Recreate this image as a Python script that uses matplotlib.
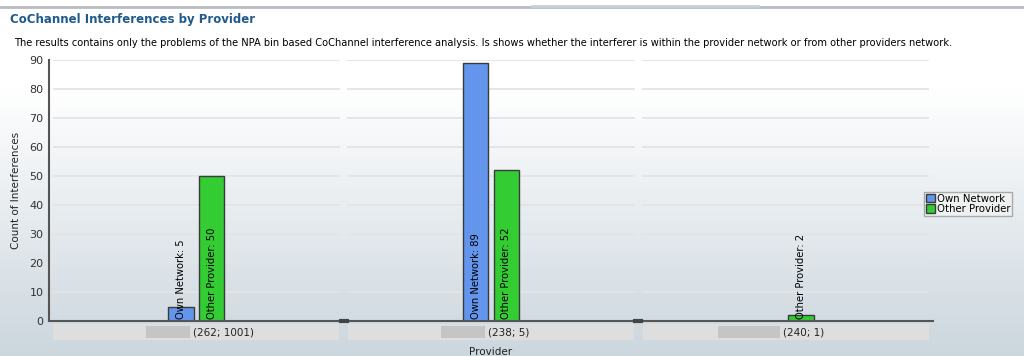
import numpy as np
import matplotlib.pyplot as plt
from matplotlib.patches import Rectangle, Patch

# dados
categorias = ['(262; 1001)', '(238; 5)', '(240; 1)']
own_network = [5, 89, 0]
other_provider = [50, 52, 2]
yticks = [0, 10, 20, 30, 40, 50, 60, 70, 80, 90]

plt.rcParams['font.family'] = ['DejaVu Sans']

fig = plt.figure(figsize=(10.24, 3.56), dpi=100)

# fundo com gradiente (branco em cima -> cinza azulado embaixo)
bg = fig.add_axes([0, 0, 1, 1], zorder=-10)
grad = np.linspace(0, 1, 256).reshape(-1, 1)
grad = np.clip((grad - 0.25) / 0.75, 0, 1)
top = np.array([1.0, 1.0, 1.0])
bot = np.array([0.80, 0.84, 0.87])
img = top + (bot - top) * grad[:, :, None]
bg.imshow(img, aspect='auto', extent=[0, 1, 0, 1], origin='upper')
bg.axis('off')

# barra do topo
fig.add_artist(plt.Line2D([0, 1], [1 - 7/356, 1 - 7/356], color='#b8bcc2', lw=2))
fig.add_artist(plt.Line2D([0.52, 0.74], [1 - 6/356, 1 - 6/356], color='#c8d0d8', lw=2))

fig.text(10/1024, 1 - 20/356, 'CoChannel Interferences by Provider', fontsize=8.5,
         fontweight='bold', color='#1f5a8c', va='center', ha='left')
fig.text(14/1024, 1 - 43/356,
         'The results contains only the problems of the NPA bin based CoChannel interference analysis. '
         'Is shows whether the interferer is within the provider network or from other providers network.',
         fontsize=7.1, color='black', va='center', ha='left')

ax = fig.add_axes([49/1024, 35/356, 884/1024, 261/356])
ax.set_facecolor('none')

x = np.arange(len(categorias))
w = 0.085
off = 0.052

# grade horizontal com intervalos entre categorias
for yv in yticks[1:]:
    for c in x:
        ax.hlines(yv, c - 0.5 + 0.012, c + 0.5 - 0.012, color='#e2e4e6', lw=1.3, zorder=0)

b1 = ax.bar(x - off, own_network, w, color='#6495ed', edgecolor='#3a3a3a', lw=1, zorder=2)
b2 = ax.bar(x + off, other_provider, w, color='#33cc33', edgecolor='#3a3a3a', lw=1, zorder=2)

for i in range(len(categorias)):
    if own_network[i] > 0:
        ax.text(x[i] - off, 0.8, 'Own Network: %d' % own_network[i], rotation=90,
                ha='center', va='bottom', fontsize=7.2, color='black', zorder=3)
    if other_provider[i] > 0:
        ax.text(x[i] + off, 0.8, 'Other Provider: %d' % other_provider[i], rotation=90,
                ha='center', va='bottom', fontsize=7.2, color='black', zorder=3)

ax.set_xlim(-0.5, 2.5)
ax.set_ylim(0, 90)
ax.set_yticks(yticks)
ax.set_xticks([])
ax.tick_params(axis='y', labelsize=8, colors='#333333', length=0, pad=4)
ax.spines['top'].set_visible(False)
ax.spines['right'].set_visible(False)
ax.spines['left'].set_color('#555555')
ax.spines['bottom'].set_color('#555555')
ax.spines['left'].set_linewidth(1.5)
ax.spines['bottom'].set_linewidth(1.5)
ax.set_ylabel('Count of Interferences', fontsize=7.5, color='#222222', labelpad=6)

# marcas entre categorias
for b in [0.5, 1.5]:
    ax.plot([b - 0.01, b + 0.01], [0, 0], color='#444444', lw=3, clip_on=False, zorder=4)

# caixas dos rotulos das categorias (nomes borrados no original)
for i, cat in enumerate(categorias):
    ax.add_patch(Rectangle((i - 0.485, -1.0), 0.97, -5.6,
                           facecolor='#dedede', edgecolor='none', clip_on=False, zorder=1))
    extra = 0.06 if i == 2 else 0
    ax.add_patch(Rectangle((i - 0.17 - extra, -1.6), 0.15 + extra, -4.4,
                           facecolor='#b5b5b5', edgecolor='none', alpha=0.6, clip_on=False, zorder=2))
    ax.text(i - 0.01, -3.8, cat, ha='left', va='center', fontsize=7.5, color='#222222', clip_on=False)

ax.set_xlabel('Provider', fontsize=7.5, color='#222222', labelpad=19)

handles = [Patch(facecolor='#6495ed', edgecolor='#3a3a3a', label='Own Network'),
           Patch(facecolor='#33cc33', edgecolor='#3a3a3a', label='Other Provider')]
leg = fig.legend(handles=handles, loc='upper left', bbox_to_anchor=(924/1024, 1 - 192/356),
                 fontsize=7.3, frameon=True, fancybox=False, borderpad=0.15, handlelength=0.9,
                 handleheight=0.9, handletextpad=0.2, labelspacing=0.05, borderaxespad=0)
leg.get_frame().set_edgecolor('#999999')
leg.get_frame().set_facecolor('#f2f2f2')
leg.get_frame().set_linewidth(1)

plt.savefig('out.png', dpi=100)
